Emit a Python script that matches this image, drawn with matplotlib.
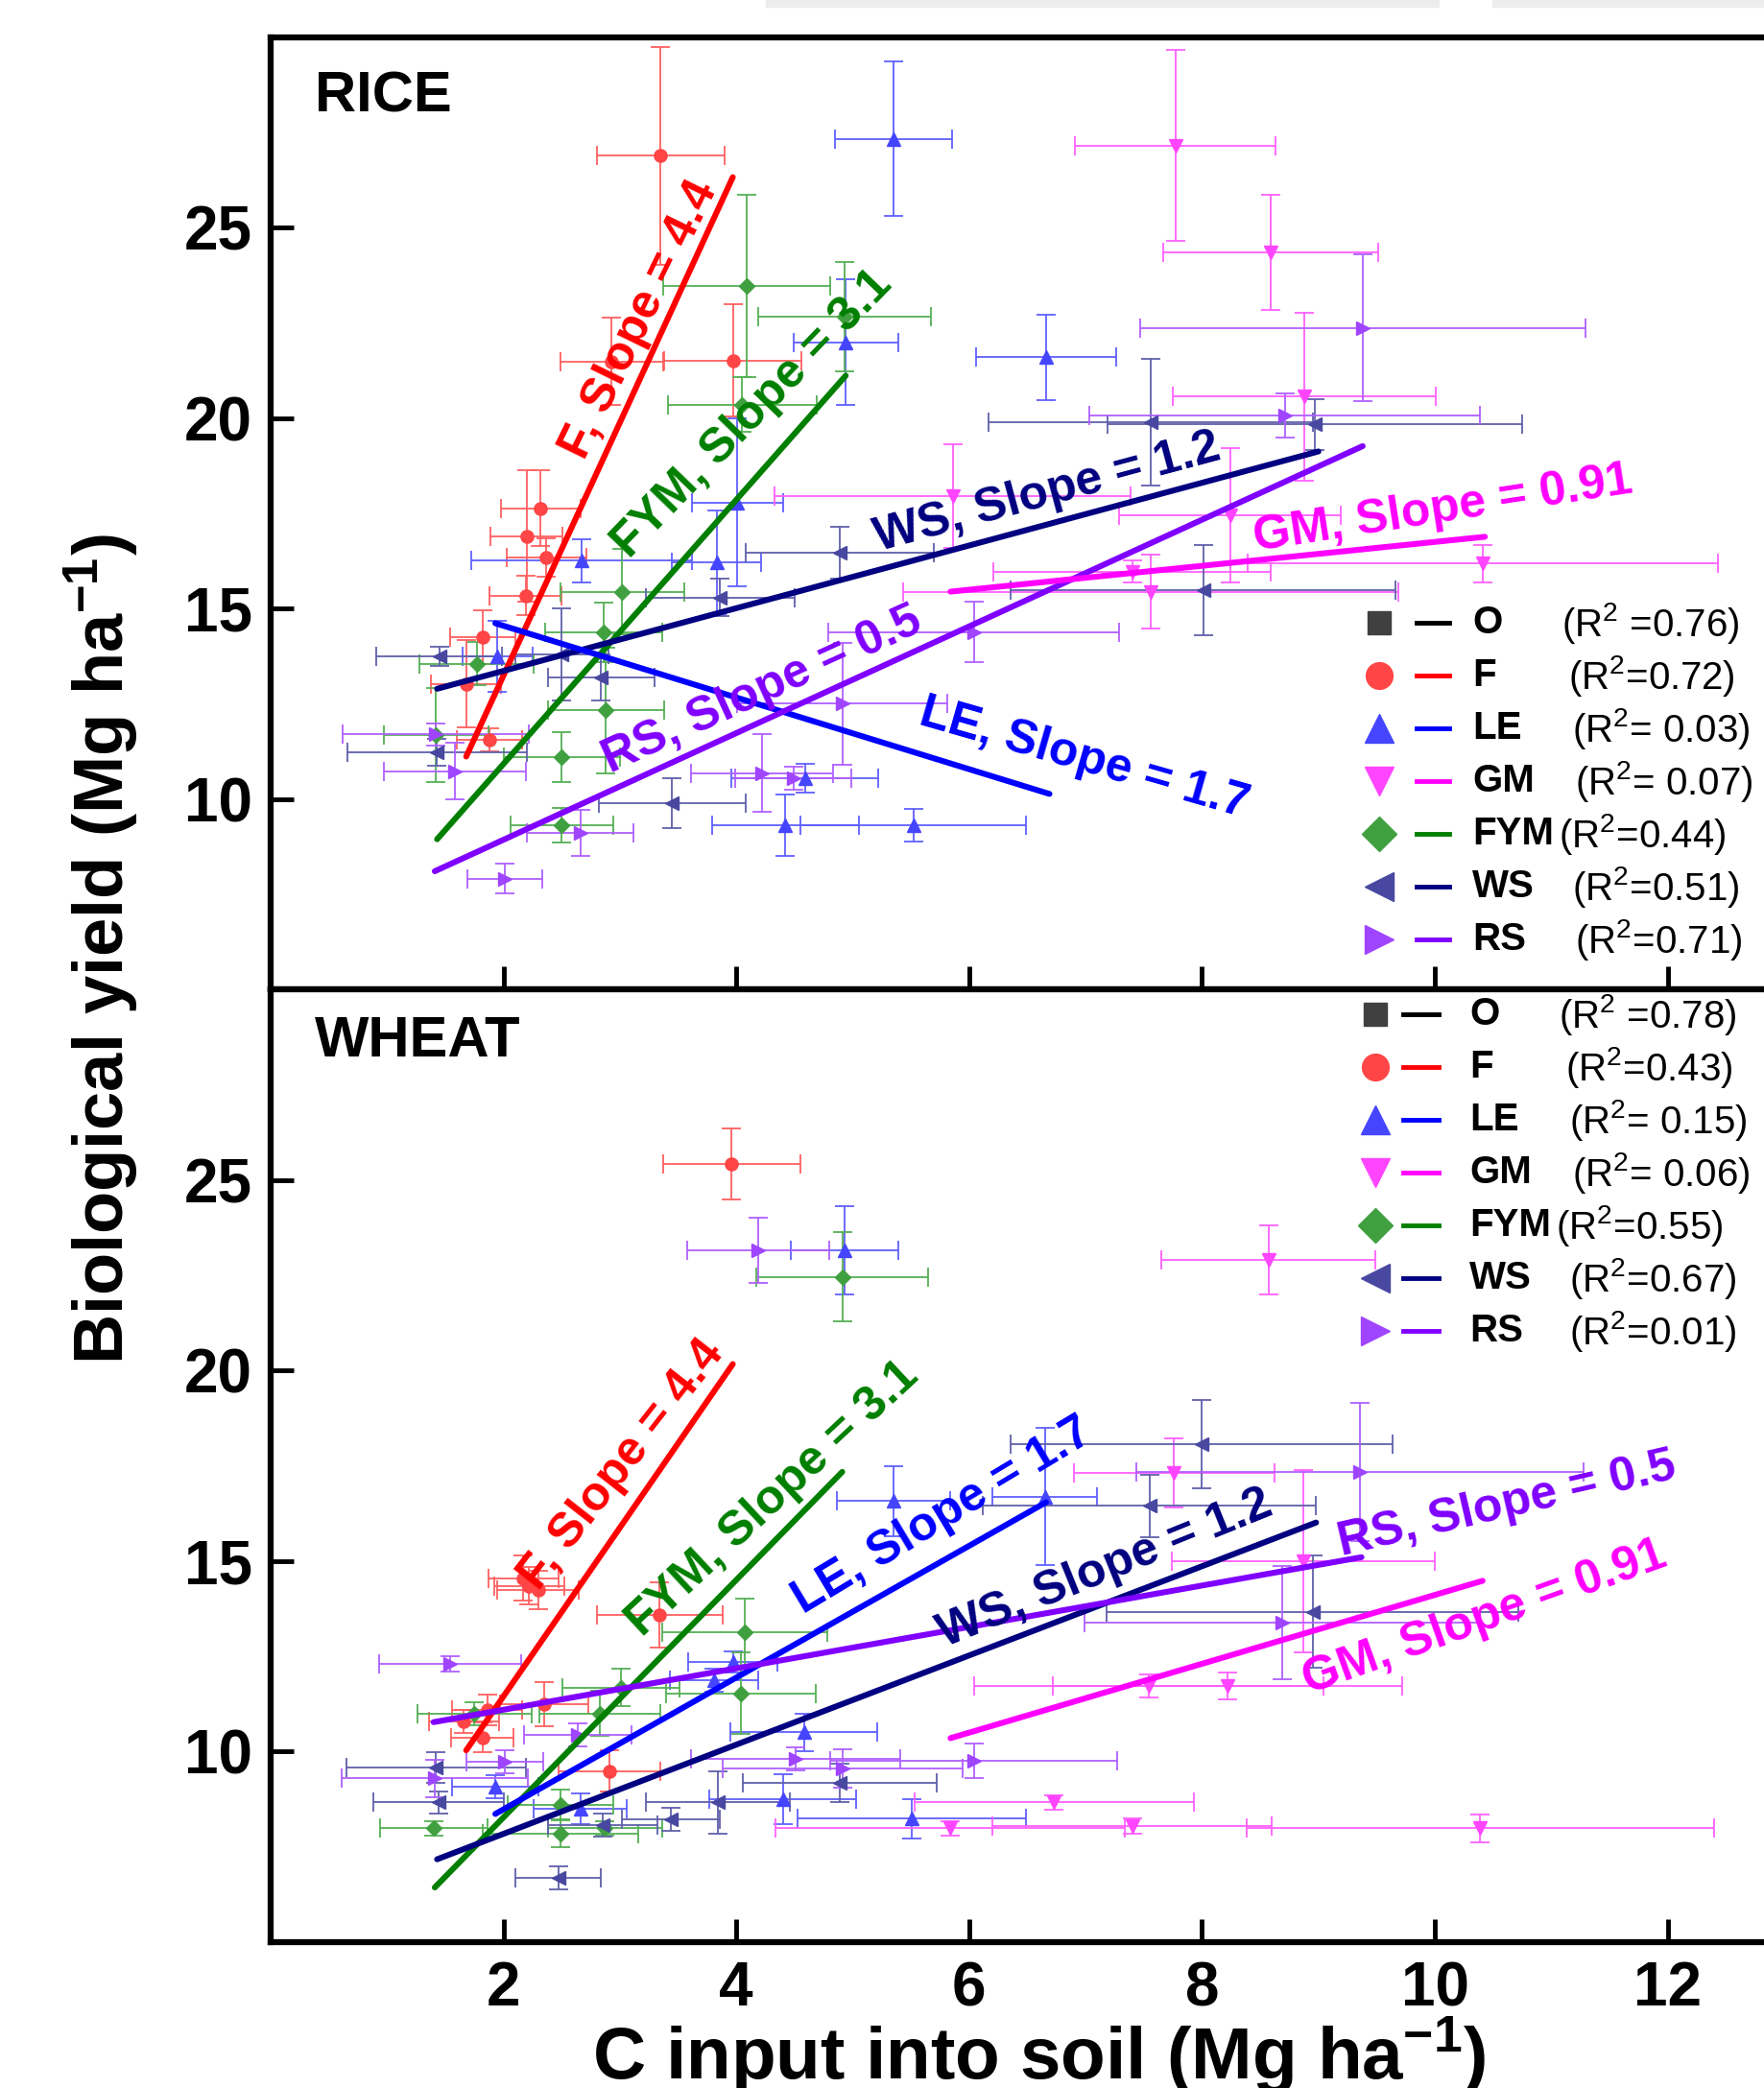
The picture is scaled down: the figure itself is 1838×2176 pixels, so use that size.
import matplotlib.pyplot as plt
from matplotlib.lines import Line2D
from matplotlib.patches import Rectangle

plt.rcParams['font.family'] = ['Liberation Sans', 'DejaVu Sans']
plt.rcParams['font.weight'] = 'bold'
plt.rcParams['mathtext.fontset'] = 'custom'
plt.rcParams['mathtext.rm'] = 'Liberation Sans:bold'
plt.rcParams['mathtext.bf'] = 'Liberation Sans:bold'
plt.rcParams['mathtext.default'] = 'bf'

# ---- data: (C input, yield, C input err, yield err) ----
rice_F = [(3.35, 26.89, 0.55, 2.85), (3.97, 21.52, 0.59, 1.47), (2.93, 21.49, 0.44, 1.15),
          (2.32, 17.64, 0.34, 1.00), (2.20, 16.91, 0.31, 1.73), (2.37, 16.34, 0.34, 0.50),
          (2.19, 15.35, 0.31, 0.52), (1.82, 14.26, 0.28, 0.70), (1.68, 13.03, 0.30, 1.15),
          (1.88, 11.55, 0.28, 0.30)]
rice_LE = [(5.35, 27.34, 0.50, 2.03), (4.94, 22.00, 0.45, 1.64), (6.66, 21.60, 0.60, 1.12),
           (4.01, 17.79, 0.39, 2.20), (2.67, 16.26, 0.95, 0.57), (3.83, 16.22, 0.38, 1.36),
           (1.95, 13.75, 0.30, 0.93), (4.59, 10.56, 0.63, 0.38), (4.42, 9.32, 0.63, 0.80),
           (5.52, 9.32, 0.97, 0.42)]
rice_GM = [(7.77, 27.16, 0.86, 2.50), (8.59, 24.35, 0.92, 1.51), (8.88, 20.57, 1.13, 2.20),
           (5.86, 17.96, 1.53, 1.35), (8.24, 17.45, 0.95, 1.77), (10.41, 16.19, 2.02, 0.49),
           (7.40, 15.98, 1.19, 0.30), (7.56, 15.45, 2.13, 0.98)]
rice_FYM = [(4.09, 23.47, 0.72, 2.40), (4.93, 22.67, 0.74, 1.43), (4.05, 20.36, 0.64, 0.71),
            (3.02, 15.45, 0.53, 1.13), (2.86, 14.39, 0.50, 0.78), (1.77, 13.56, 0.49, 0.57),
            (2.88, 12.33, 0.50, 1.64), (1.42, 11.68, 0.45, 1.23), (2.50, 11.11, 0.50, 0.66),
            (2.50, 9.32, 0.44, 0.45)]
rice_WS = [(7.56, 19.90, 1.39, 1.66), (8.97, 19.84, 1.78, 0.67), (4.89, 16.47, 0.81, 0.69),
           (8.01, 15.49, 1.65, 1.19), (3.86, 15.30, 0.64, 0.50), (1.45, 13.75, 0.54, 0.25),
           (2.50, 13.80, 0.40, 1.20), (2.84, 13.19, 0.46, 0.60), (1.43, 11.24, 0.77, 0.35),
           (3.45, 9.89, 0.63, 0.66)]
rice_RS = [(9.38, 22.37, 1.91, 1.93), (8.71, 20.08, 1.68, 0.58), (6.04, 14.39, 1.25, 0.80),
           (4.91, 12.51, 0.90, 1.60), (1.42, 11.70, 0.80, 0.30), (1.58, 10.74, 0.61, 0.75),
           (4.22, 10.69, 0.61, 1.02), (4.49, 10.56, 0.50, 0.30), (2.66, 9.11, 0.46, 0.60),
           (2.01, 7.92, 0.32, 0.40)]

wheat_F = [(3.96, 25.43, 0.59, 0.93), (2.17, 14.55, 0.30, 0.59), (2.22, 14.35, 0.30, 0.50),
           (2.30, 14.24, 0.35, 0.50), (3.34, 13.58, 0.54, 0.85), (2.35, 11.24, 0.38, 0.59),
           (1.86, 11.09, 0.30, 0.40), (1.66, 10.78, 0.30, 0.30), (1.82, 10.37, 0.27, 0.40),
           (2.91, 9.49, 0.44, 0.55)]
wheat_LE = [(4.93, 23.15, 0.46, 1.16), (6.65, 16.69, 0.45, 1.80), (5.35, 16.58, 0.49, 0.92),
            (3.97, 12.35, 0.38, 0.28), (3.81, 11.88, 0.38, 0.30), (4.58, 10.51, 0.63, 0.49),
            (1.93, 9.08, 0.37, 0.30), (4.40, 8.75, 0.63, 0.65), (2.66, 8.50, 0.40, 0.40),
            (5.51, 8.24, 0.98, 0.52)]
wheat_GM = [(8.57, 22.91, 0.92, 0.91), (7.76, 17.31, 0.86, 0.91), (8.87, 14.99, 1.13, 2.40),
            (7.54, 11.73, 1.50, 0.30), (8.22, 11.73, 1.50, 0.35), (6.73, 8.66, 1.20, 0.20),
            (7.40, 8.05, 1.20, 0.20), (5.84, 7.98, 1.50, 0.20), (10.39, 7.98, 2.01, 0.37)]
wheat_FYM = [(4.91, 22.46, 0.74, 1.17), (4.07, 13.14, 0.71, 0.88), (3.01, 11.68, 0.50, 0.50),
             (4.04, 11.53, 0.64, 1.07), (2.83, 11.00, 0.52, 0.60), (1.75, 11.00, 0.49, 0.30),
             (2.49, 8.60, 0.45, 0.40), (1.40, 7.98, 0.46, 0.20), (2.87, 7.98, 0.49, 0.20),
             (2.49, 7.85, 0.67, 0.37)]
wheat_WS = [(8.00, 18.07, 1.64, 1.15), (7.55, 16.45, 1.43, 0.82), (8.95, 13.67, 1.77, 1.48),
            (1.42, 9.58, 0.77, 0.40), (4.89, 9.17, 0.83, 0.50), (1.44, 8.66, 0.56, 0.30),
            (3.84, 8.66, 0.62, 0.81), (3.44, 8.22, 0.42, 0.30), (2.85, 8.07, 0.47, 0.30),
            (2.47, 6.69, 0.37, 0.30)]
wheat_RS = [(4.19, 23.16, 0.61, 0.86), (9.36, 17.34, 1.92, 1.82), (8.69, 13.38, 1.70, 1.48),
            (1.54, 12.29, 0.61, 0.20), (2.64, 10.43, 0.46, 0.30), (4.51, 9.80, 0.90, 0.30),
            (6.04, 9.75, 1.23, 0.45), (2.01, 9.73, 0.33, 0.30), (4.91, 9.55, 1.03, 0.50),
            (1.41, 9.29, 0.80, 0.50)]

# fitted lines: (x start, y start, x end, y end)
rice_fits = {'F': (1.68, 11.12, 3.97, 26.33), 'FYM': (1.43, 8.95, 4.94, 21.12),
             'WS': (1.43, 12.90, 9.00, 19.13), 'LE': (1.93, 14.62, 6.69, 10.14),
             'RS': (1.41, 8.11, 9.38, 19.27), 'GM': (5.84, 15.45, 10.43, 16.89)}
wheat_fits = {'F': (1.68, 10.03, 3.97, 20.17), 'FYM': (1.41, 6.43, 4.91, 17.34),
              'LE': (1.93, 8.36, 6.66, 16.54), 'WS': (1.43, 7.17, 8.98, 16.01),
              'RS': (1.40, 10.77, 9.37, 15.10), 'GM': (5.84, 10.35, 10.41, 14.48)}

slopes = {'F': '4.4', 'FYM': '3.1', 'WS': '1.2', 'LE': '1.7', 'RS': '0.5', 'GM': '0.91'}
treatments = ['O', 'F', 'LE', 'GM', 'FYM', 'WS', 'RS']
rice_r2 = [' =0.76)', '=0.72)', '= 0.03)', '= 0.07)', '=0.44)', '=0.51)', '=0.71)']
wheat_r2 = [' =0.78)', '=0.43)', '= 0.15)', '= 0.06)', '=0.55)', '=0.67)', '=0.01)']
x_ticks = [2, 4, 6, 8, 10, 12]
y_ticks = [10, 15, 20, 25]

# ---- styles ----
marker = {'O': 's', 'F': 'o', 'LE': '^', 'GM': 'v', 'FYM': 'D', 'WS': '<', 'RS': '>'}
msize = {'O': 9, 'F': 9.5, 'LE': 10, 'GM': 10, 'FYM': 8, 'WS': 10, 'RS': 10}
mcolor = {'O': '#404040', 'F': '#FF4545', 'LE': '#4545FF', 'GM': '#FF45FF',
          'FYM': '#40A040', 'WS': '#4848A0', 'RS': '#A045FF'}
ecolor = {'O': '#505050', 'F': '#FF6060', 'LE': '#6060FF', 'GM': '#FF60FF',
          'FYM': '#55B055', 'WS': '#6060AA', 'RS': '#B060FF'}
lcolor = {'O': '#000000', 'F': '#FF0000', 'LE': '#0000FF', 'GM': '#FF00FF',
          'FYM': '#007F00', 'WS': '#000080', 'RS': '#8000FF'}
legend_ms = {'O': 17, 'F': 20, 'LE': 21, 'GM': 21, 'FYM': 18, 'WS': 21, 'RS': 21}

fig = plt.figure(figsize=(18.38, 21.76), dpi=100)
fig.patches.append(Rectangle((575 / 1324, 1 - 5 / 1568), 505 / 1324, 5 / 1568,
                             transform=fig.transFigure, color='#EDEDED', zorder=0))
fig.patches.append(Rectangle((1120 / 1324, 1 - 5 / 1568), 204 / 1324, 5 / 1568,
                             transform=fig.transFigure, color='#EDEDED', zorder=0))

ax_top = fig.add_axes([0.1534, 0.526, 0.858, 0.4561])
ax_bot = fig.add_axes([0.1534, 0.06995, 0.858, 0.4561])


def fpos(xd, yd):
    return xd / 1324, 1 - yd / 1568


def draw_panel(ax, points, fits, notes, r2, title, title_y, leg_y0, leg_x):
    for key, pts in points:
        x, y, xe, ye = zip(*pts)
        ax.errorbar(x, y, xerr=xe, yerr=ye, fmt=marker[key], ms=msize[key],
                    color=mcolor[key], mec=mcolor[key], ecolor=ecolor[key],
                    elinewidth=1.3, capsize=7.5, capthick=1.3, zorder=2)
    for key, (x0, y0, x1, y1) in fits.items():
        ax.plot([x0, x1], [y0, y1], color=lcolor[key], lw=4.4,
                solid_capstyle='round', zorder=4)
    for key, tx, ty, ang in notes:
        ax.text(tx, ty, f'{key}, Slope = {slopes[key]}', color=lcolor[key], fontsize=36,
                rotation=ang, rotation_mode='anchor', ha='center', va='center', zorder=5)
    ax.text(0.38, title_y, title, fontsize=43, va='baseline', ha='left')

    ax.set_xlim(0, 13)
    ax.set_ylim(5, 30)
    ax.set_xticks(x_ticks)
    ax.set_yticks(y_ticks)
    for side in ['left', 'top', 'bottom']:
        ax.spines[side].set_linewidth(4.5)
    ax.spines['right'].set_visible(False)
    ax.tick_params(direction='in', length=17, width=3.5, labelsize=46, pad=14,
                   top=False, right=False)

    mx, lx0, lx1, tx, rxs = leg_x
    for i, key in enumerate(treatments):
        yd = leg_y0 + i * 39.6
        x_m, y_m = fpos(mx, yd)
        fig.add_artist(Line2D([x_m], [y_m], transform=fig.transFigure, marker=marker[key],
                              ms=legend_ms[key], color=mcolor[key], ls='none'))
        (xa, ya), (xb, _) = fpos(lx0, yd), fpos(lx1, yd)
        fig.add_artist(Line2D([xa, xb], [ya, ya], transform=fig.transFigure,
                              color=lcolor[key], lw=3.5))
        fig.text(*fpos(tx, yd), key, fontsize=29, ha='left', va='center')
        fig.text(*fpos(rxs[i], yd), r'(R$^{\mathregular{2}}$' + r2[i], fontsize=29,
                 fontweight='normal', ha='left', va='center')


rice_points = [('F', rice_F), ('LE', rice_LE), ('GM', rice_GM), ('FYM', rice_FYM),
               ('WS', rice_WS), ('RS', rice_RS)]
wheat_points = [('F', wheat_F), ('LE', wheat_LE), ('GM', wheat_GM), ('FYM', wheat_FYM),
                ('WS', wheat_WS), ('RS', wheat_RS)]
rice_notes = [('F', 3.17, 22.59, 64), ('FYM', 4.14, 20.10, 46), ('WS', 6.67, 18.04, 15),
              ('LE', 6.99, 11.05, -16), ('RS', 4.22, 12.87, 24.5), ('GM', 10.07, 17.62, 8.8)]
wheat_notes = [('F', 3.02, 17.52, 52), ('FYM', 4.31, 16.64, 43), ('LE', 5.77, 16.19, 31),
               ('WS', 7.17, 14.79, 22), ('RS', 10.62, 16.47, 13), ('GM', 10.43, 13.50, 19.7)]

draw_panel(ax_top, rice_points, rice_fits, rice_notes, rice_r2, 'RICE', 28.04, 468,
           (1035, 1063, 1088, 1105, [1172, 1177, 1180, 1182, 1170, 1180, 1182]))
draw_panel(ax_bot, wheat_points, wheat_fits, wheat_notes, wheat_r2, 'WHEAT', 28.24, 762,
           (1032, 1053, 1080, 1103, [1170, 1175, 1178, 1180, 1168, 1178, 1178]))
ax_top.tick_params(labelbottom=False)

fig.text(0.080, 0.5455, r'Biological yield (Mg ha$^{-1}$)', fontsize=52, rotation=90,
         ha='right', va='center')
fig.text(0.589, 0.004, r'C input into soil (Mg ha$^{-1}$)', fontsize=55,
         ha='center', va='baseline')

fig.savefig('out.png', dpi=100)
